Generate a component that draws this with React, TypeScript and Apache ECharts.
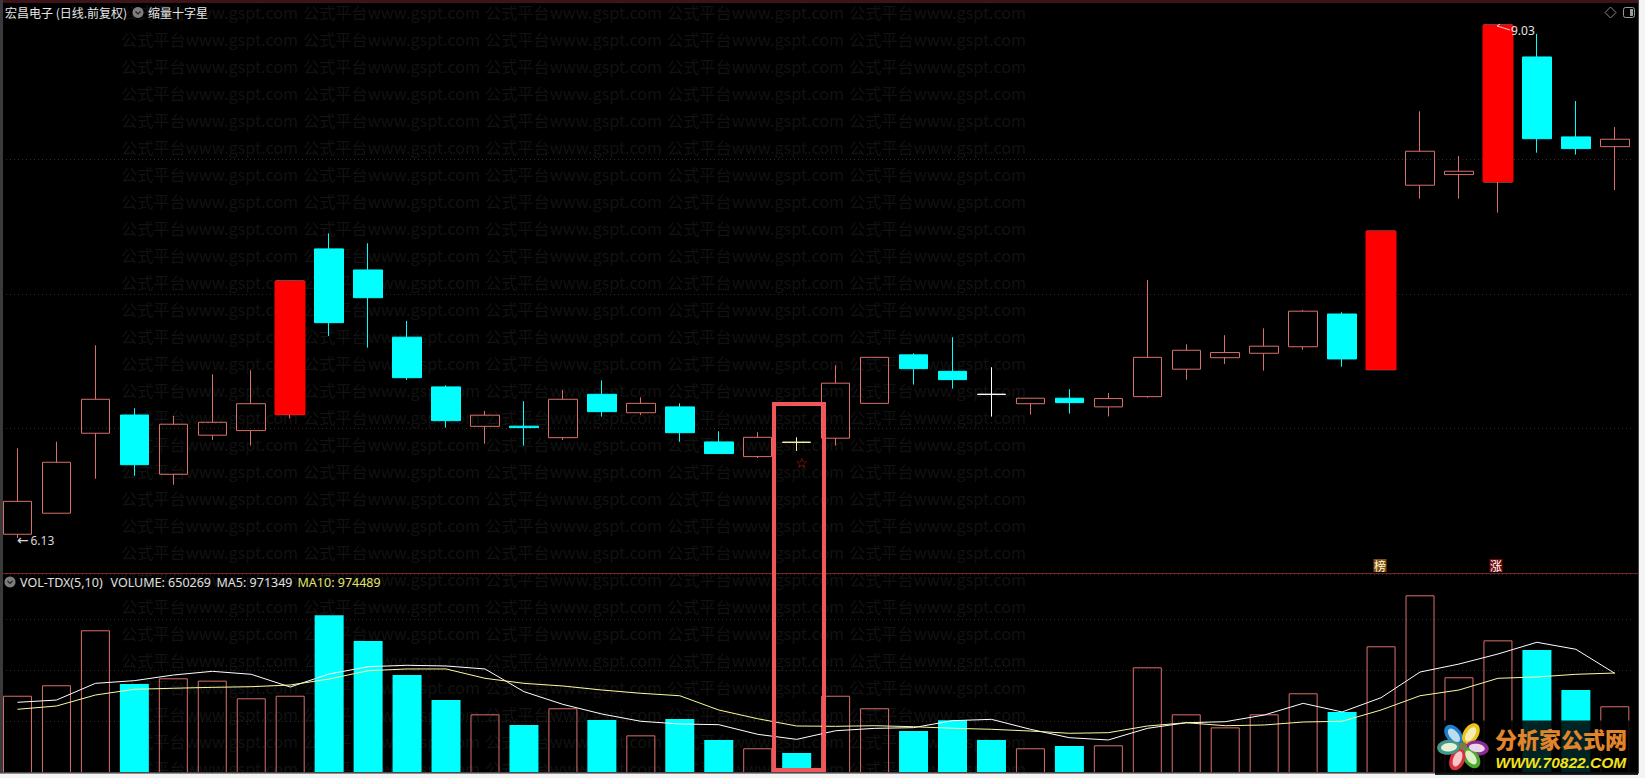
import React, { useEffect, useRef } from "react";
import * as echarts from "echarts";

const opens = [6.151,6.27,6.722,6.825,6.49,6.711,6.737,6.827,7.764,7.645,7.265,6.984,6.761,6.762,6.697,6.942,6.838,6.871,6.673,6.59,6.672,6.694,6.891,7.165,7.072,6.943,6.889,6.92,6.871,6.929,7.084,7.149,7.174,7.211,7.396,7.081,8.124,8.184,8.142,8.849,8.397,8.342];
const closes = [6.337,6.558,6.914,6.544,6.773,6.784,6.889,7.583,7.347,7.488,7.036,6.793,6.824,6.754,6.914,6.844,6.891,6.725,6.607,6.699,6.67,7.005,7.151,7.087,7.025,6.941,6.92,6.895,6.918,7.151,7.191,7.178,7.214,7.412,7.142,7.865,8.316,8.203,9.03,8.387,8.331,8.384];
const lows = [6.13,6.27,6.465,6.482,6.431,6.684,6.652,6.807,7.272,7.206,7.023,6.754,6.663,6.652,6.684,6.816,6.825,6.674,6.607,6.582,6.622,6.652,6.891,6.997,6.974,6.816,6.827,6.833,6.817,6.923,7.025,7.114,7.076,7.194,7.098,7.081,8.048,8.048,7.969,8.308,8.297,8.097];
const highs = [6.637,6.674,7.219,6.863,6.82,7.055,7.078,7.583,7.852,7.796,7.357,6.993,6.848,6.903,6.967,7.021,6.925,6.891,6.733,6.728,6.699,7.106,7.151,7.174,7.265,7.095,6.92,6.971,6.95,7.588,7.225,7.276,7.315,7.419,7.406,7.865,8.542,8.289,9.03,8.979,8.6,8.453];
const limitUpDays = [7, 35, 38];
const dojiColors: Record<number, string> = { 20: "#f4f2a0", 25: "#ffffff" };
const priceGrid = [6.753, 7.515, 8.267];

const volumes = [753000,855000,1391000,867000,923000,900000,728000,753000,1537000,1287000,955000,712000,572000,468000,631000,517000,367000,526000,322000,241000,195000,753000,631000,409000,514000,322000,241000,263000,270000,1030000,572000,445000,572000,777000,595000,1235000,1732000,933000,1293000,1199000,809000,650269];
const ma5 = [689000,711000,874000,900000,955000,991000,962000,838000,965000,1036000,1050000,1043000,1014000,793000,669000,575000,504000,478000,471000,377000,328000,412000,435000,442000,510000,523000,426000,344000,322000,435000,490000,500000,565000,679000,595000,734000,984000,1062000,1160000,1274000,1206000,971349];
const ma10 = [621000,653000,760000,816000,826000,835000,841000,858000,916000,997000,1014000,1014000,923000,874000,848000,809000,777000,753000,614000,529000,458000,455000,461000,451000,436000,426000,409000,387000,393000,458000,490000,461000,468000,497000,504000,614000,753000,809000,923000,936000,962000,974489];
const days = opens.map((_, i) => String(i + 1));

const SALMON = "#d96f6a";
const CYAN = "#00ffff";
const RED = "#ff0000";
const GRID_DOT = "#3a2929";
const CJK = '"Noto Sans CJK SC"';

const wmColumns = [121, 303, 485, 667, 849];
const wmRows = Array.from({ length: 29 }, (_, i) => 12 + i * 27);

function txt(text: string, x: number, y: number, fill: string, font: string, z = 40, align = "left") {
  return { type: "text", silent: true, z, style: { text, x, y, fill, font, textAlign: align, textVerticalAlign: "middle" } };
}

function petal(angle: number, outer: string, inner: string) {
  const rotation = (-angle * Math.PI) / 180;
  const base = { x: 1463, y: 746, rotation, silent: true };
  return [
    { ...base, type: "ellipse", z: 62, shape: { cx: 0, cy: -14.5, rx: 7.5, ry: 11.5 }, style: { fill: outer } },
    { ...base, type: "ellipse", z: 63, shape: { cx: 0, cy: -14, rx: 4.2, ry: 8 }, style: { fill: inner } },
  ];
}

function chevronIcon(cx: number, cy: number) {
  return [
    { type: "circle", silent: true, z: 40, shape: { cx, cy, r: 5.5 }, style: { fill: "#7d7d7d" } },
    { type: "polyline", silent: true, z: 41, shape: { points: [[cx - 2.5, cy - 1], [cx, cy + 1.5], [cx + 2.5, cy - 1]] }, style: { stroke: "#222", lineWidth: 1.2, fill: "none" } },
  ];
}

function buildGraphic() {
  const els: any[] = [];
  for (const y of wmRows) {
    for (const x of wmColumns) {
      els.push(txt("公式平台www.gspt.com", x, y, "#121212", `16.2px ${CJK}`, 0));
    }
  }
  // window frame
  els.push({ type: "rect", silent: true, z: 50, shape: { x: 0, y: 0, width: 1645, height: 3 }, style: { fill: "#3d1518" } });
  els.push({ type: "rect", silent: true, z: 50, shape: { x: 0, y: 0, width: 3, height: 773 }, style: { fill: "#3a3a3a" } });
  els.push({ type: "rect", silent: true, z: 50, shape: { x: 0, y: 772, width: 1639, height: 1.5 }, style: { fill: "#4a4a4a" } });
  els.push({ type: "rect", silent: true, z: 51, shape: { x: 0, y: 773.5, width: 1645, height: 5 }, style: { fill: "#f4f4f4" } });
  els.push({ type: "rect", silent: true, z: 50, shape: { x: 1638, y: 0, width: 1.2, height: 773 }, style: { fill: "#444444" } });
  els.push({ type: "rect", silent: true, z: 51, shape: { x: 1639, y: 0, width: 6, height: 778 }, style: { fill: "#f4f4f4" } });
  els.push({ type: "line", silent: true, z: 45, shape: { x1: 0, y1: 573.5, x2: 1638, y2: 573.5 }, style: { stroke: "#7c1f1f", lineWidth: 1 } });

  // headers
  els.push(txt("宏昌电子 (日线.前复权)", 5, 12.5, "#e6e6e6", `12px ${CJK}`));
  els.push(...chevronIcon(138, 12.5));
  els.push(txt("缩量十字星", 148, 12.5, "#e6e6e6", `12px ${CJK}`));
  els.push(...chevronIcon(10, 582));
  els.push(txt("VOL-TDX(5,10)", 20, 582, "#e0e0e0", '12.5px "Noto Sans"'));
  els.push(txt("VOLUME: 650269", 110.5, 582, "#e0e0e0", '12.5px "Noto Sans"'));
  els.push(txt("MA5: 971349", 216.5, 582, "#e0e0e0", '12.5px "Noto Sans"'));
  els.push(txt("MA10: 974489", 297.5, 582, "#e4e46a", '12.5px "Noto Sans"'));

  // top-right icons
  els.push({ type: "polygon", silent: true, z: 40, shape: { points: [[1610.5, 7], [1616, 12.5], [1610.5, 18], [1605, 12.5]] }, style: { fill: "none", stroke: "#8a8a8a", lineWidth: 1 } });
  els.push({ type: "rect", silent: true, z: 40, shape: { x: 1623.5, y: 7.5, width: 11, height: 10, r: 2 }, style: { fill: "none", stroke: "#9a9a9a", lineWidth: 1 } });
  els.push({ type: "rect", silent: true, z: 40, shape: { x: 1630, y: 9, width: 3, height: 7 }, style: { fill: "#9a9a9a" } });

  // extreme labels
  els.push(txt("←", 17, 539.5, "#d8d8d8", '14px "DejaVu Sans"'));
  els.push(txt("6.13", 30.5, 540, "#d8d8d8", '12px "Noto Sans"'));
  els.push({ type: "polyline", silent: true, z: 40, shape: { points: [[1510, 30], [1497, 26], [1500, 24]] }, style: { stroke: "#f2d0d0", lineWidth: 1, fill: "none" } });
  els.push(txt("9.03", 1511, 30.5, "#e4e4e4", '12px "Noto Sans"'));

  // star
  els.push(txt("☆", 801.5, 463, "#c4281f", '14px "DejaVu Sans"', 40, "center"));

  // badges
  els.push({ type: "rect", silent: true, z: 40, shape: { x: 1373.5, y: 559, width: 13, height: 13 }, style: { fill: "#7d5010" } });
  els.push(txt("榜", 1380, 565.5, "#fff6d8", `12px ${CJK}`, 41, "center"));
  els.push({ type: "rect", silent: true, z: 40, shape: { x: 1489.5, y: 559, width: 13, height: 13 }, style: { fill: "#720a0a" } });
  els.push(txt("涨", 1496, 565.5, "#ffffff", `12px ${CJK}`, 41, "center"));

  // highlight box
  els.push({ type: "rect", silent: true, z: 55, shape: { x: 774, y: 404, width: 50, height: 366 }, style: { fill: "none", stroke: "#f0565a", lineWidth: 4 } });

  // logo
  els.push({ type: "rect", silent: true, z: 60, shape: { x: 1435, y: 720.5, width: 203, height: 54.5 }, style: { fill: "rgba(0,0,0,0.86)" } });
  els.push(...petal(-40, "#1f7fd0", "#bcdcf0"));
  els.push(...petal(33, "#e8c41e", "#f6eeb0"));
  els.push(...petal(98, "#8c2a96", "#ecd4ea"));
  els.push(...petal(145, "#4da82e", "#dcefc8"));
  els.push(...petal(-157, "#d8303c", "#f6c8cc"));
  els.push(...petal(-95, "#3f9a86", "#e8f0d8"));
  els.push({ type: "circle", silent: true, z: 64, shape: { cx: 1463, cy: 746, r: 4 }, style: { fill: "#7a7a4a" } });
  els.push(txt("分析家公式网", 1495, 738, "#e0852b", `900 22px ${CJK}`, 64));
  els.push(txt("WWW.70822.COM", 1495.5, 762, "#f2e21e", 'italic bold 15.5px "Liberation Sans"', 64));
  return els;
}

export default function App() {
  const ref = useRef<HTMLDivElement>(null);
  useEffect(() => {
    document.body.style.margin = "0";
    const chart = echarts.init(ref.current!, undefined, { renderer: "svg" });
    const candles = opens.map((o, i) => {
      const value = [o, closes[i], lows[i], highs[i]];
      const doji = dojiColors[i];
      return doji ? { value, itemStyle: { color0: doji, borderColor0: doji } } : { value };
    });
    const limitUpBodies = opens.map((o, i) =>
      limitUpDays.includes(i) ? [o, closes[i], o, closes[i]] : ["-", "-", "-", "-"]
    );
    const volumeBars = volumes.map((v, i) => ({
      value: v,
      itemStyle:
        closes[i] < opens[i]
          ? { color: CYAN }
          : { color: "transparent", borderColor: SALMON, borderWidth: 1 },
    }));
    chart.setOption({
      animation: false,
      backgroundColor: "#000000",
      grid: [
        { left: -2, width: 1636.3, top: 3, height: 570, containLabel: false, outerBoundsMode: "none" },
        { left: -2, width: 1636.3, top: 574, height: 199, containLabel: false, outerBoundsMode: "none" },
      ],
      xAxis: [0, 1].map((gridIndex) => ({
        type: "category",
        gridIndex,
        data: days,
        boundaryGap: true,
        axisLine: { show: false },
        axisTick: { show: false },
        axisLabel: { show: false },
        splitLine: { show: false },
      })),
      yAxis: [
        {
          type: "value",
          gridIndex: 0,
          min: 5.932,
          max: 9.154,
          axisLine: { show: false },
          axisTick: { show: false },
          axisLabel: { show: false },
          splitLine: { show: false },
        },
        {
          type: "value",
          gridIndex: 1,
          min: 0,
          max: 1939653,
          interval: 500000,
          axisLine: { show: false },
          axisTick: { show: false },
          axisLabel: { show: false },
          splitLine: { show: true, lineStyle: { color: GRID_DOT, type: [1, 3], width: 1 } },
        },
      ],
      graphic: { elements: buildGraphic() },
      series: [
        {
          name: "grid",
          type: "line",
          xAxisIndex: 0,
          yAxisIndex: 0,
          data: [],
          z: 1,
          markLine: {
            silent: true,
            z: 1,
            symbol: "none",
            label: { show: false },
            lineStyle: { color: GRID_DOT, type: [1, 3], width: 1 },
            data: priceGrid.map((yAxis) => ({ yAxis })),
          },
        },
        {
          name: "K",
          type: "candlestick",
          xAxisIndex: 0,
          yAxisIndex: 0,
          barWidth: 29,
          z: 3,
          itemStyle: { color: "transparent", borderColor: SALMON, color0: CYAN, borderColor0: CYAN, borderWidth: 1 },
          data: candles,
        },
        {
          name: "limitUp",
          type: "candlestick",
          xAxisIndex: 0,
          yAxisIndex: 0,
          barWidth: 31,
          z: 4,
          itemStyle: { color: RED, borderColor: RED, color0: RED, borderColor0: RED, borderWidth: 0 },
          data: limitUpBodies,
        },
        {
          name: "VOLUME",
          type: "bar",
          xAxisIndex: 1,
          yAxisIndex: 1,
          barWidth: 29,
          z: 2,
          data: volumeBars,
        },
        {
          name: "MA5",
          type: "line",
          xAxisIndex: 1,
          yAxisIndex: 1,
          showSymbol: false,
          z: 5,
          lineStyle: { color: "#ffffff", width: 1 },
          data: ma5,
        },
        {
          name: "MA10",
          type: "line",
          xAxisIndex: 1,
          yAxisIndex: 1,
          showSymbol: false,
          z: 5,
          lineStyle: { color: "#fdfaa0", width: 1 },
          data: ma10,
        },
      ],
    });
    return () => chart.dispose();
  }, []);
  return <div ref={ref} style={{ position: "absolute", left: 0, top: 0, width: 1645, height: 778 }} />;
}
